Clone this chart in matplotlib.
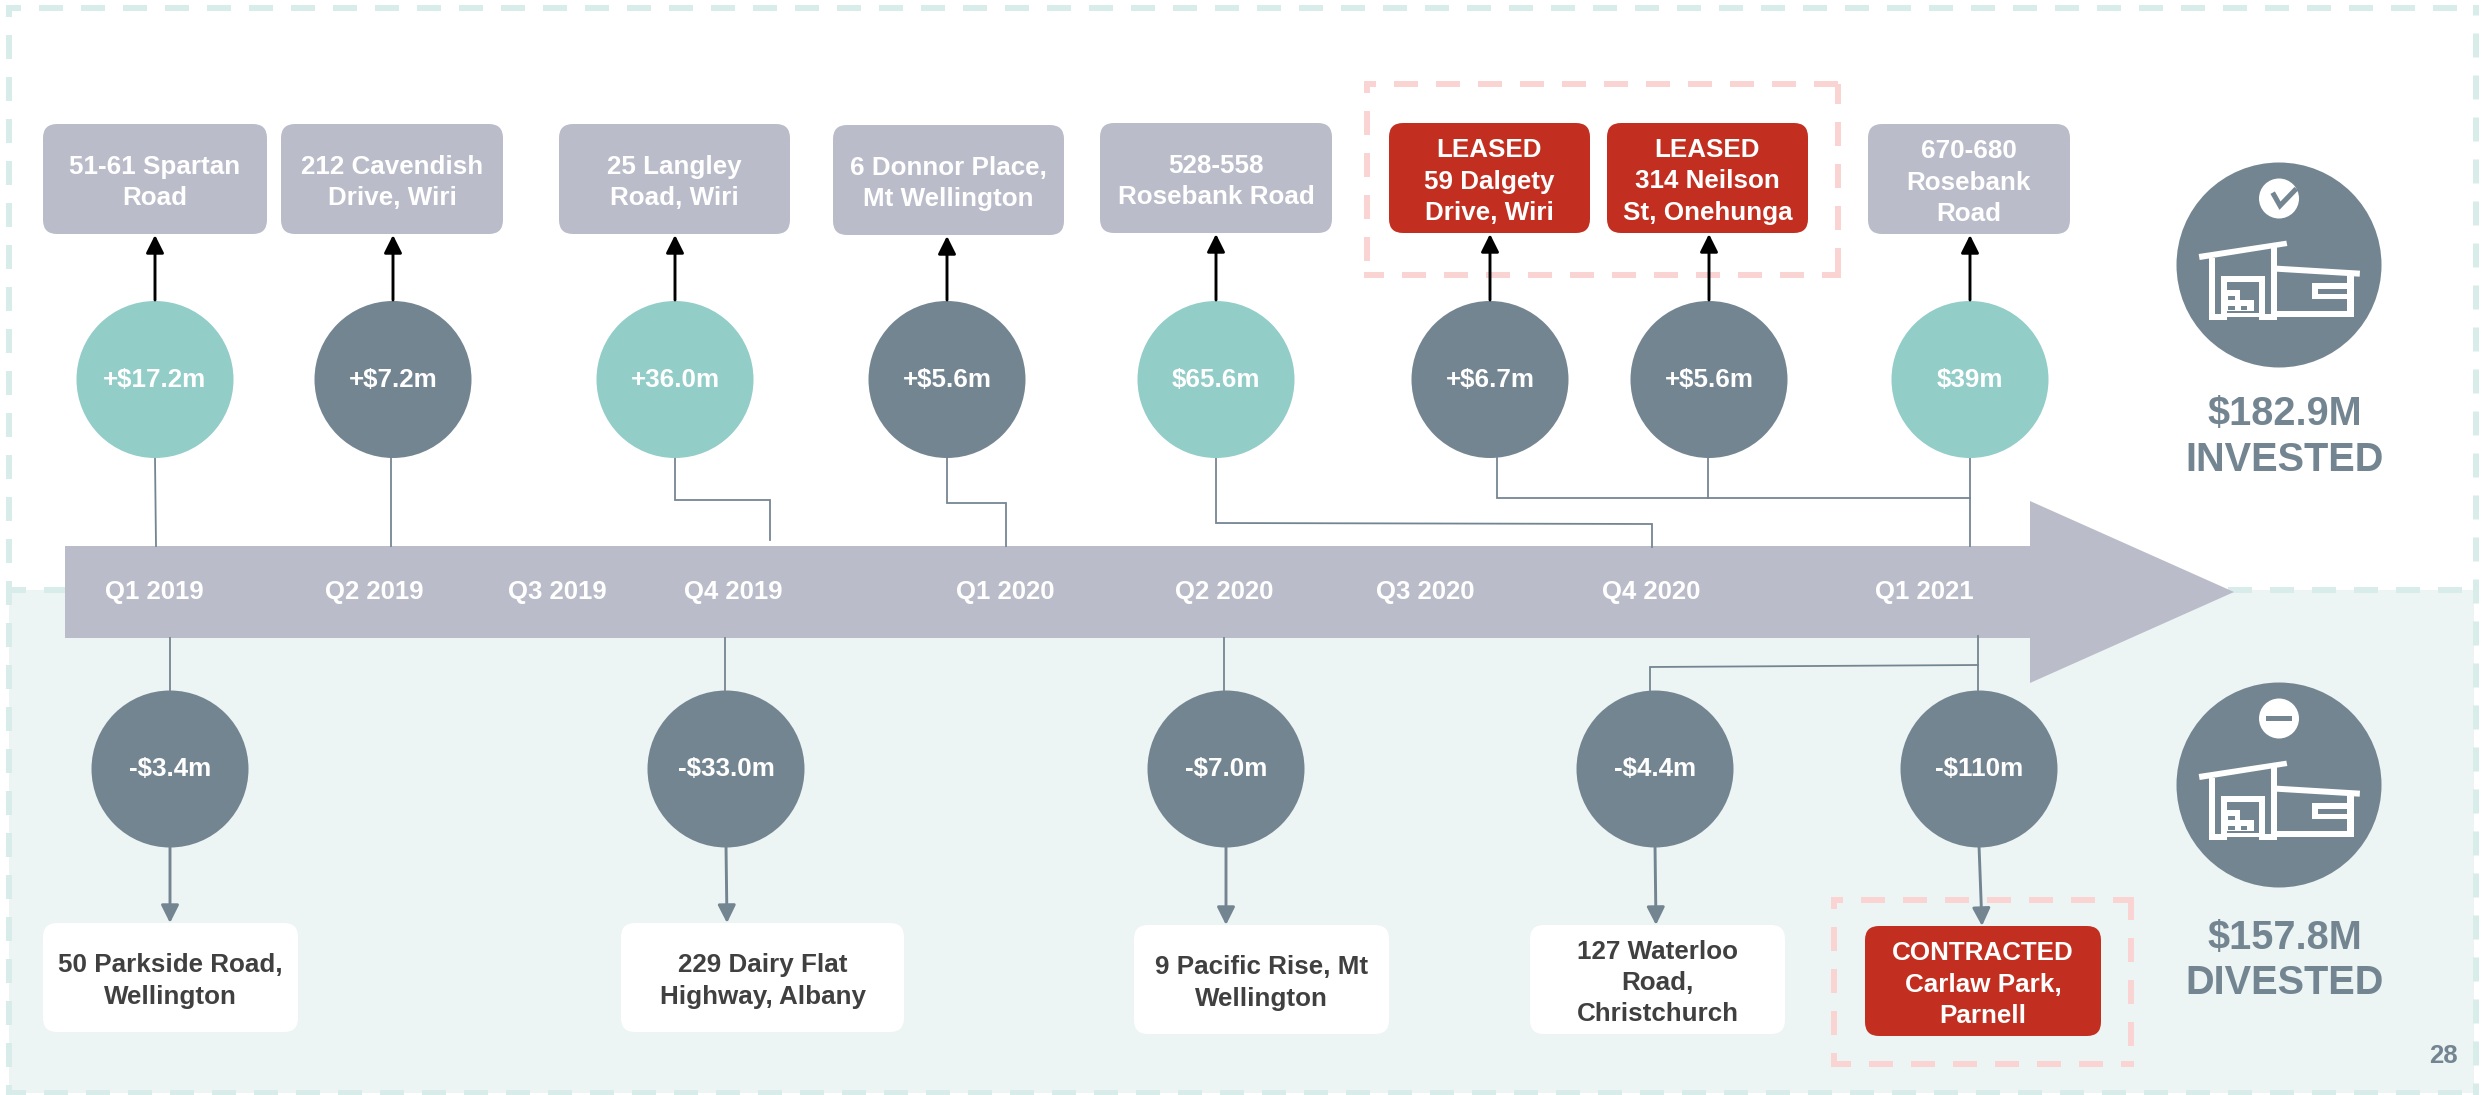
import matplotlib
matplotlib.use("Agg")
import matplotlib.pyplot as plt
from matplotlib.patches import Circle, FancyBboxPatch, Polygon, Rectangle

plt.rcParams['font.family'] = ['Liberation Sans', 'DejaVu Sans']
plt.rcParams['lines.scale_dashes'] = False

quarters = ['Q1 2019', 'Q2 2019', 'Q3 2019', 'Q4 2019', 'Q1 2020',
            'Q2 2020', 'Q3 2020', 'Q4 2020', 'Q1 2021']
invest_values = ['+$17.2m', '+$7.2m', '+36.0m', '+$5.6m', '$65.6m', '+$6.7m', '+$5.6m', '$39m']
invest_names = ['51-61 Spartan\nRoad', '212 Cavendish\nDrive, Wiri', '25 Langley\nRoad, Wiri',
                '6 Donnor Place,\nMt Wellington', '528-558\nRosebank Road',
                'LEASED\n59 Dalgety\nDrive, Wiri', 'LEASED\n314 Neilson\nSt, Onehunga',
                '670-680\nRosebank\nRoad']
divest_values = ['-$3.4m', '-$33.0m', '-$7.0m', '-$4.4m', '-$110m']
divest_names = ['50 Parkside Road,\nWellington', '229 Dairy Flat\nHighway, Albany',
                '9 Pacific Rise, Mt\nWellington', '127 Waterloo\nRoad,\nChristchurch',
                'CONTRACTED\nCarlaw Park,\nParnell']

# layout in reference pixels
quarter_x = [154, 374, 557, 733, 1005, 1224, 1425, 1651, 1924]
invest_x = [155, 393, 675, 947, 1216, 1490, 1709, 1970]
invest_teal = [True, False, True, False, True, False, False, True]
invest_boxes = [(43, 267, 124, 234), (281, 503, 124, 234), (559, 790, 124, 234),
                (833, 1064, 125, 235), (1100, 1332, 123, 233), (1389, 1590, 123, 233),
                (1607, 1808, 123, 233), (1868, 2070, 124, 234)]
divest_x = [170, 726, 1226, 1655, 1979]
divest_tip_x = [170, 727, 1226, 1656, 1982]
divest_boxes = [(43, 298, 923, 1032), (621, 904, 923, 1032), (1134, 1389, 925, 1034),
                (1530, 1785, 925, 1034), (1865, 2101, 926, 1036)]

GREY = '#748592'
TEAL = '#92cdc8'
RED = '#c22f20'
BAR = '#babdc9'
MINT = '#d8ecea'
PANEL = '#ecf5f4'
PINK = '#f9d4d2'
px = 0.72

fig = plt.figure(figsize=(24.83, 10.95), dpi=100, facecolor='white')
ax = fig.add_axes([0, 0, 1, 1])
ax.set_xlim(0, 2483)
ax.set_ylim(1095, 0)
ax.axis('off')


def dashed(x0, y0, x1, y1, color, offset, z=0.5):
    ax.plot([x0, x1], [y0, y1], color=color, lw=6 * px, solid_capstyle='butt', zorder=z,
            dash_capstyle='butt', linestyle=(offset * px, (24 * px, 18 * px)))


def dashed_frame(x0, y0, x1, y1, color):
    dashed(x0 - 3, y0, x1 + 3, y0, color, 12)
    dashed(x0, y0, x0, y1 + 3, color, 15)
    dashed(x1, y0, x1, y1 + 3, color, 4)
    dashed(x0 - 3, y1, x1 + 3, y1, color, 4)


def box(x0, x1, y0, y1, color, text, text_color):
    ax.add_patch(FancyBboxPatch((x0 + 14, y0 + 14), x1 - x0 - 28, y1 - y0 - 28,
                                boxstyle='round,pad=14,rounding_size=14', fc=color, ec='none'))
    ax.text((x0 + x1) / 2, (y0 + y1) / 2 + 3.5, text, color=text_color, fontsize=18.7, fontweight='bold',
            ha='center', va='center', linespacing=1.38)


def arrow(x0, y0, x1, y1, color):
    ax.annotate('', xy=(x1, y1), xytext=(x0, y0),
                arrowprops=dict(arrowstyle='-|>,head_length=0.6,head_width=0.3', mutation_scale=18,
                                lw=2.1, color=color, shrinkA=0, shrinkB=0))


def connector(xs, ys):
    ax.plot(xs, ys, color=GREY, lw=1.5 * px * 1.2, solid_joinstyle='miter', zorder=0.8)


def icon(cx, cy, plus):
    # shapes traced on a 3x zoom of the icon, origin at its circle centre
    def pts(*p):
        return [(cx + (a - 538) / 3, cy + (b - 405) / 3) for a, b in p]

    def rect(a0, b0, a1, b1, color='white'):
        ax.add_patch(Polygon(pts((a0, b0), (a1, b0), (a1, b1), (a0, b1)), fc=color, ec='none'))

    ax.add_patch(Circle((cx, cy), 102.5, fc=GREY, ec='none'))
    ax.add_patch(Circle((cx, cy - 66.5), 20, fc='white', ec='none'))
    if plus:
        (mx0, my0), (mx1, my1), (mx2, my2) = pts((519, 188), (541, 227), (590, 176))
        ax.plot([mx0, mx1, mx2], [my0, my1, my2], color=GREY, lw=4.6 * px * 1.1,
                solid_joinstyle='miter', solid_capstyle='butt')
    else:
        rect(499, 199, 578, 212, GREY)
    ax.add_patch(Polygon(pts((297, 372), (560, 332), (563, 348), (300, 390)), fc='white', ec='none'))
    ax.add_patch(Polygon(pts((530, 407), (781, 422), (780, 440), (530, 425)), fc='white', ec='none'))
    rect(327, 385, 345, 570)
    rect(515, 350, 533, 570)
    rect(743, 435, 762, 562)
    rect(327, 552, 383, 570)
    rect(477, 552, 533, 570)
    rect(533, 543, 762, 562)
    rect(383, 550, 477, 560)
    rect(365, 437, 495, 455)
    rect(365, 437, 383, 552)
    rect(477, 437, 495, 552)
    ax.add_patch(Polygon(pts((383, 480), (422, 480), (422, 510), (462, 510), (462, 542), (383, 542)),
                         fc='white', ec='none'))
    rect(385, 497, 405, 510, GREY)
    rect(385, 527, 405, 540, GREY)
    rect(424, 527, 443, 540, GREY)
    rect(637, 460, 743, 478)
    rect(637, 460, 655, 508)
    rect(637, 492, 743, 508)


# background panel and dashed frame
ax.add_patch(Rectangle((9, 590), 2465, 503, fc=PANEL, ec='none', zorder=0.2))
dashed(6, 8, 2479, 8, MINT, 9)
dashed(6, 590, 2479, 590, MINT, 4)
dashed(6, 1093, 2479, 1093, MINT, 4)
dashed(9, 5, 9, 1096, MINT, 12)
dashed(2476, 5, 2476, 1096, MINT, 13.5)

# timeline arrow
ax.add_patch(Polygon([(65, 546), (2030, 546), (2030, 501), (2234, 592), (2030, 683), (2030, 638), (65, 638)],
                     fc=BAR, ec='none', zorder=0.7))
for name, x in zip(quarters, quarter_x):
    ax.text(x, 592, name, color='white', fontsize=18.5, fontweight='bold', ha='center', va='center')

# connectors
connector([155, 156], [458, 546])
connector([391, 391], [458, 546])
connector([675, 675, 770, 770], [458, 500, 500, 540])
connector([947, 947, 1006, 1006], [458, 503, 503, 546])
connector([1216, 1216, 1652, 1652], [458, 523, 524, 547])
connector([1497, 1497, 1970], [458, 498, 498])
connector([1708, 1708], [458, 498])
connector([1970, 1970], [458, 546])
connector([170, 170], [638, 691])
connector([725, 725], [638, 691])
connector([1224, 1224], [638, 691])
connector([1978, 1978], [636, 691])
connector([1650, 1650, 1978], [691, 667, 665])

# invested side
dashed_frame(1367, 84, 1838, 275, PINK)
for i, value in enumerate(invest_values):
    x = invest_x[i]
    ax.add_patch(Circle((x, 379.5), 78.5, fc=TEAL if invest_teal[i] else GREY, ec='none'))
    ax.text(x, 380, value, color='white', fontsize=18.7, fontweight='bold', ha='center', va='center')
    x0, x1, y0, y1 = invest_boxes[i]
    leased = invest_names[i].startswith('LEASED')
    box(x0, x1, y0, y1, RED if leased else BAR, invest_names[i], 'white')
    arrow(x, 300, x, y1 + 1, 'black')

# divested side
dashed_frame(1834, 900, 2131, 1064, PINK)
for i, value in enumerate(divest_values):
    x = divest_x[i]
    ax.add_patch(Circle((x, 769), 78.5, fc=GREY, ec='none'))
    ax.text(x, 769, value, color='white', fontsize=18.7, fontweight='bold', ha='center', va='center')
    x0, x1, y0, y1 = divest_boxes[i]
    contracted = divest_names[i].startswith('CONTRACTED')
    box(x0, x1, y0, y1, RED if contracted else 'white', divest_names[i], 'white' if contracted else '#404040')
    arrow(x, 845, divest_tip_x[i], y0, GREY)

# totals
icon(2279, 265, True)
icon(2279, 785, False)
ax.text(2285, 414, '$182.9M', color=GREY, fontsize=28.6, fontweight='bold', ha='center', va='center')
ax.text(2285, 460, 'INVESTED', color=GREY, fontsize=28.6, fontweight='bold', ha='center', va='center')
ax.text(2285, 938, '$157.8M', color=GREY, fontsize=28.6, fontweight='bold', ha='center', va='center')
ax.text(2285, 983, 'DIVESTED', color=GREY, fontsize=28.6, fontweight='bold', ha='center', va='center')
ax.text(2443, 1056, '28', color=GREY, fontsize=18.5, fontweight='bold', ha='center', va='center')

fig.savefig('out.png', dpi=100)
